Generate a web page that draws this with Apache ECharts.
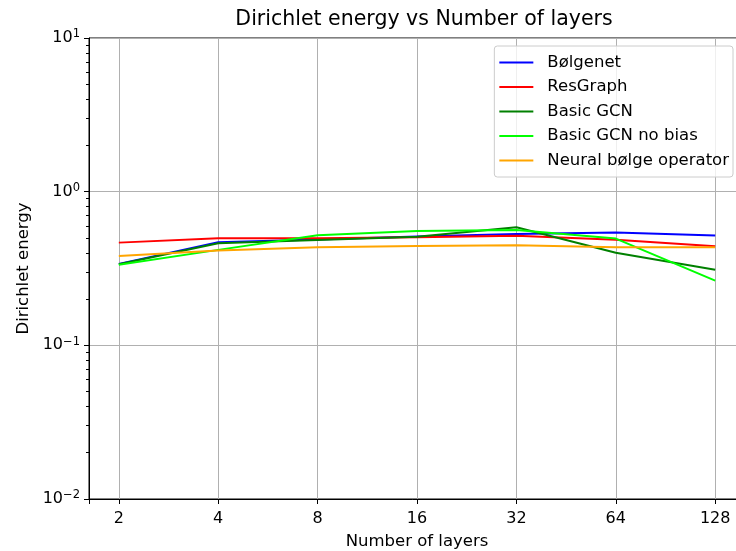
<!DOCTYPE html>
<html>
<head>
<meta charset="utf-8">
<title>Dirichlet energy vs Number of layers</title>
<script src="https://cdn.jsdelivr.net/npm/echarts@6/dist/echarts.min.js"></script>
<style>
  html, body { margin: 0; padding: 0; background: #fff; }
  #chart { width: 736px; height: 551px; }
</style>
</head>
<body>
<div id="chart"></div>
<script>
// number of layers (x, log2 axis)
const layers = [2, 4, 8, 16, 32, 64, 128]

// dirichlet energy per model
const bolgenet = [0.339, 0.469, 0.488, 0.510, 0.531, 0.542, 0.518]
const resGraph = [0.466, 0.497, 0.497, 0.505, 0.516, 0.486, 0.441]
const basicGcn = [0.337, 0.462, 0.485, 0.508, 0.586, 0.400, 0.310]
const basicGcnNoBias = [0.335, 0.418, 0.520, 0.555, 0.564, 0.495, 0.264]
const neuralBolge = [0.382, 0.414, 0.435, 0.443, 0.448, 0.435, 0.435]

// y minor ticks (2..9 x 10^k)
const yMinorTicks = []
for (let k = -2; k < 1; k++) {
  for (let m = 2; m < 10; m++) {
    yMinorTicks.push(m * Math.pow(10, k))
  }
}

const font = 'DejaVu Sans'
const sup = { '-2': '−2', '-1': '−1', '0': '0', '1': '1' }

function makeSeries(name, values, color) {
  return {
    name: name,
    type: 'line',
    xAxisIndex: 0,
    yAxisIndex: 0,
    symbol: 'none',
    lineStyle: { color: color, width: 2 },
    itemStyle: { color: color },
    data: layers.map((l, i) => [l, values[i]]),
    animation: false
  }
}

const chart = echarts.init(document.getElementById('chart'), null, { renderer: 'canvas' })
chart.setOption({
  backgroundColor: '#fff',
  textStyle: { fontFamily: font, color: '#000' },
  title: {
    text: 'Dirichlet energy vs Number of layers',
    left: 424,
    top: 9,
    padding: 0,
    textAlign: 'center',
    textStyle: { fontFamily: font, fontSize: 20.5, fontWeight: 'normal', color: '#000' }
  },
  grid: {
    left: 89,
    top: 38,
    width: 656,
    bottom: 52,
    show: true,
    borderColor: '#000',
    borderWidth: 1,
    containLabel: false,
    outerBoundsMode: 'none'
  },
  legend: {
    orient: 'vertical',
    right: 3,
    top: 46,
    padding: [8, 4, 8, 5],
    icon: 'rect',
    itemWidth: 34,
    itemHeight: 2,
    itemGap: 7.5,
    backgroundColor: 'rgba(255,255,255,0.8)',
    borderColor: '#cccccc',
    borderWidth: 1,
    borderRadius: 3,
    textStyle: { fontFamily: font, fontSize: 16.5, lineHeight: 16, color: '#000', padding: [0, 0, 0, 9] },
    data: ['Bølgenet', 'ResGraph', 'Basic GCN', 'Basic GCN no bias', 'Neural bølge operator']
  },
  xAxis: {
    type: 'log',
    logBase: 2,
    min: Math.pow(2, 0.7),
    max: Math.pow(2, 7.3),
    name: 'Number of layers',
    nameLocation: 'middle',
    nameGap: 34,
    nameTextStyle: { fontFamily: font, fontSize: 16.5, color: '#000' },
    axisLine: { show: true, lineStyle: { color: '#000', width: 1 } },
    axisTick: { show: true, length: 5, lineStyle: { color: '#000', width: 1 } },
    axisLabel: {
      margin: 12,
      fontFamily: font,
      fontSize: 16,
      color: '#000',
      formatter: function (v) {
        const l = Math.log2(v)
        return Math.abs(l - Math.round(l)) < 1e-6 ? String(Math.round(v)) : ''
      }
    },
    splitLine: { show: true, lineStyle: { color: '#b0b0b0', width: 1 } }
  },
  yAxis: [
    {
      type: 'log',
      logBase: 10,
      min: 0.01,
      max: 10,
      name: 'Dirichlet energy',
      nameLocation: 'middle',
      nameGap: 57,
      nameRotate: 90,
      nameTextStyle: { fontFamily: font, fontSize: 16.5, color: '#000' },
      axisLine: { show: true, lineStyle: { color: '#000', width: 1 } },
      axisTick: { show: true, length: 5, lineStyle: { color: '#000', width: 1 } },
      axisLabel: {
        margin: 9,
        formatter: function (v) {
          const e = Math.round(Math.log10(v))
          return '{b|10}{s|' + sup[String(e)] + '}'
        },
        rich: {
          b: { fontFamily: font, fontSize: 16, color: '#000' },
          s: { fontFamily: font, fontSize: 11.5, color: '#000', verticalAlign: 'top', padding: [0, 0, 7, 0] }
        }
      },
      splitLine: { show: true, lineStyle: { color: '#b0b0b0', width: 1 } }
    },
    {
      // minor ticks only
      type: 'log',
      logBase: 10,
      min: 0.01,
      max: 10,
      position: 'left',
      axisLine: { show: false },
      axisLabel: { show: false },
      splitLine: { show: false },
      axisTick: {
        show: true,
        length: 3,
        customValues: yMinorTicks,
        lineStyle: { color: '#000', width: 1 }
      }
    }
  ],
  series: [
    makeSeries('Bølgenet', bolgenet, '#0000ff'),
    makeSeries('ResGraph', resGraph, '#ff0000'),
    makeSeries('Basic GCN', basicGcn, '#008000'),
    makeSeries('Basic GCN no bias', basicGcnNoBias, '#00ff00'),
    makeSeries('Neural bølge operator', neuralBolge, '#ffa500')
  ]
})
</script>
</body>
</html>
